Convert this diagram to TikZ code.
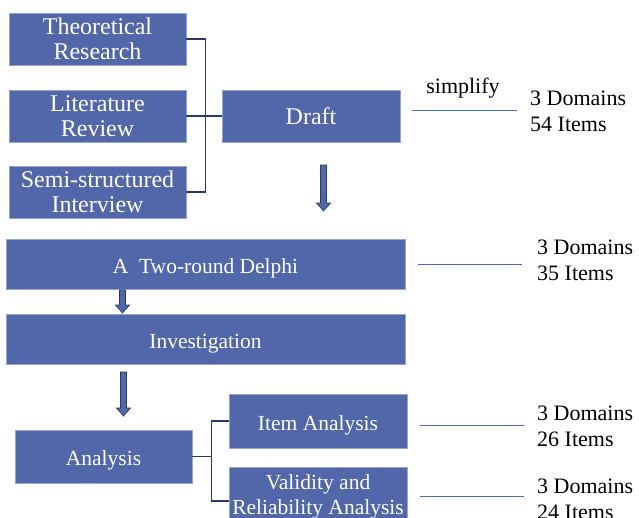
\documentclass[tikz,border=0pt]{standalone}
\usepackage{fontspec}
\setmainfont{Liberation Serif}
\usepackage{xcolor}
\usepackage{tikz}
\usetikzlibrary{positioning, calc}

\definecolor{boxblue}{RGB}{81,103,170}
\definecolor{boxedge}{RGB}{150,165,210}
\definecolor{navy}{RGB}{38,58,110}
\definecolor{lineblue}{RGB}{72,108,188}

\tikzset{
    stagebox/.style={draw=boxedge, line width=0.6pt, fill=boxblue, text=white,
        align=center, inner sep=0pt, font=\fontsize{24}{25}\selectfont},
    widebox/.style={stagebox, font=\fontsize{21.5}{25}\selectfont},
    oneline/.style={text height=18pt, text depth=0pt},
    bracket/.style={draw=navy, line width=1.3pt},
    sideline/.style={draw=lineblue, line width=1pt},
    countlabel/.style={anchor=west, align=left, inner sep=0pt,
        font=\fontsize{22}{26}\selectfont},
    fatarrow/.style={draw=navy, line width=0.7pt, fill=boxblue, line join=miter}
}

% thick down arrow between two named points
\newcommand{\fatdown}[2]{%
    \draw[fatarrow] ($(#1)+(-3,0)$) -- ($(#2)+(-3,-8)$) -- ($(#2)+(-7,-8)$)
        -- (#2) -- ($(#2)+(7,-8)$) -- ($(#2)+(3,-8)$) -- ($(#1)+(3,0)$) -- cycle;
}

\begin{document}
\begin{tikzpicture}[x=1pt, y=-1pt]
        \clip (0,0) rectangle (639,517);

        % Sources of the draft
        \node[stagebox, minimum width=177pt, minimum height=52pt] (theory) at (97.5,39) {Theoretical\\Research};
        \node[stagebox, minimum width=177pt, minimum height=52pt] (lit) at (97.5,116) {Literature\\Review};
        \node[stagebox, minimum width=177pt, minimum height=52pt] (semi) at (97.5,192) {Semi-structured\\Interview};
        \node[stagebox, minimum width=178pt, minimum height=52pt] (draft) at (311,116) {Draft};

        % Bracket into the draft
        \draw[bracket] (theory.east) -- ++(19,0) |- (semi.east);
        \draw[bracket] (lit.east) -- (draft.west);

        % Main stages
        \node[widebox, oneline, minimum width=399pt, minimum height=50pt] (delphi) at (205.5,264) {A\ \ Two-round Delphi};
        \node[widebox, oneline, minimum width=399pt, minimum height=50pt] (invest) at (205.5,339) {Investigation};
        \node[widebox, oneline, minimum width=177pt, minimum height=53pt] (analysis) at (103.5,456.5) {Analysis};
        \node[widebox, oneline, minimum width=178pt, minimum height=54pt] (item) at (318,421) {Item Analysis};
        \node[widebox, minimum width=178pt, minimum height=60pt] (valid) at (318,497) {Validity and\\Reliability Analysis};

        % Arrows down
        \coordinate (a1s) at (323.5,165);
        \coordinate (a1e) at (323.5,211);
        \coordinate (a2s) at (122.5,290);
        \coordinate (a2e) at (122.5,313);
        \coordinate (a3s) at (123.5,372);
        \coordinate (a3e) at (123.5,416);
        \fatdown{a1s}{a1e}
        \fatdown{a2s}{a2e}
        \fatdown{a3s}{a3e}

        % Bracket out of the analysis
        \draw[bracket] (analysis.east) -- ++(19,0) coordinate (fork);
        \draw[bracket] (item.west) -| (fork) |- ([yshift=-4pt]valid.west);

        % Counts on the right
        \node[countlabel] (c1) at (530,111) {3 Domains\\54 Items};
        \node[countlabel] (c2) at (537,260) {3 Domains\\35 Items};
        \node[countlabel] (c3) at (537,426.5) {3 Domains\\26 Items};
        \node[countlabel] (c4) at (537,499) {3 Domains\\24 Items};

        \coordinate (s1) at (412,110);
        \coordinate (s2) at (418,264);
        \coordinate (s3) at (420,425);
        \coordinate (s4) at (420,496);
        \draw[sideline] (s1) -- ++(105,0);
        \draw[sideline] (s2) -- ++(104,0);
        \draw[sideline] (s3) -- ++(104,0);
        \draw[sideline] (s4) -- ++(104,0);
        \node[font=\fontsize{22}{26}\selectfont] (simp) at (463,88) {simplify};
    \end{tikzpicture}
\end{document}
